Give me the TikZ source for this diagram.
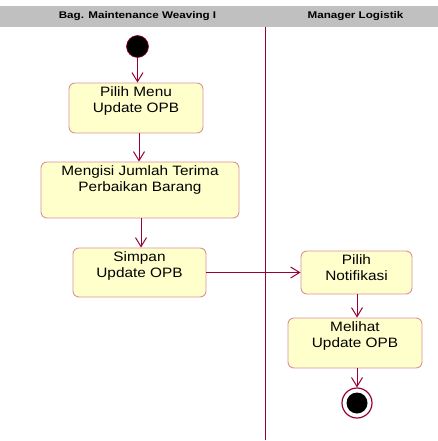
\documentclass[tikz,border=0pt]{standalone}
\usepackage{fontspec}
\setmainfont{Liberation Sans}
\newfontfamily\boxfont[FakeStretch=1.13]{Liberation Sans}
\newfontfamily\headfont[FakeStretch=1.2]{Liberation Sans}
\usetikzlibrary{arrows.meta}
\definecolor{flowred}{HTML}{990033}
\definecolor{actfill}{HTML}{FFFFCC}
\definecolor{actedge}{HTML}{D8939A}
\definecolor{headgray}{HTML}{C0C0C0}
\tikzset{
  act/.style={draw=actedge, fill=actfill, line width=0.9pt, rounded corners=6pt,
    rectangle, inner sep=0pt},
  acttext/.style={anchor=north, inner sep=0pt, yshift=-3.5pt, align=center,
    font=\boxfont\fontsize{13.6}{16}\selectfont, text=black},
  flow/.style={draw=flowred, line width=1pt, -{Straight Barb[length=9pt,width=11pt]}},
  lanehead/.style={font=\headfont\fontsize{9.7}{11}\selectfont\bfseries, inner sep=0pt},
  startnode/.style={circle, fill=black, draw=flowred, line width=0.6pt,
    minimum size=22pt, inner sep=0pt},
  endring/.style={circle, fill=white, draw=flowred, line width=1.2pt,
    minimum size=30pt, inner sep=0pt},
  enddot/.style={circle, fill=black, minimum size=21pt, inner sep=0pt}
}
\begin{document}
\begin{tikzpicture}[x=1pt,y=-1pt]
\useasboundingbox (0,0) rectangle (438,441);

% swimlane header and divider
\fill[headgray] (0,6) rectangle (438,27);
\node[lanehead] (laneA) at (137.5,16.5) {Bag. Maintenance Weaving I};
\node[lanehead] (laneB) at (355.5,16.5) {Manager Logistik};
\coordinate (divtop) at (265,27);
\coordinate (divbot) at (265,440);
\draw[flowred, line width=1pt] (divtop) -- (divbot);

% left lane
\node[startnode] (start) at (137.5,46.5) {};
\node[act, minimum width=134pt, minimum height=50pt,
  label={[acttext]north:Pilih Menu\\Update OPB}] (pm) at (136,108) {};
\node[act, minimum width=198pt, minimum height=56pt,
  label={[acttext]north:Mengisi Jumlah Terima\\Perbaikan Barang}] (mj) at (140,190) {};
\node[act, minimum width=133pt, minimum height=49pt,
  label={[acttext]north:Simpan\\Update OPB}] (su) at (139.5,272.5) {};

% right lane
\node[act, minimum width=111pt, minimum height=43pt,
  label={[acttext]north:Pilih\\Notifikasi}] (pn) at (356.5,272.5) {};
\node[act, minimum width=134pt, minimum height=50pt,
  label={[acttext]north:Melihat\\Update OPB}] (mu) at (355,343) {};
\node[endring] (finish) at (357,403) {};
\node[enddot] at (finish) {};

% control flow
\draw[flow] (start.south) -- (start.south |- pm.north);
\draw[flow] (pm.south -| 139,0) -- (139,0 |- mj.north);
\draw[flow] (mj.south -| 141,0) -- (141,0 |- su.north);
\draw[flow] (su.east) -- (pn.west);
\draw[flow] (pn.south -| finish.north) -- (finish.north |- mu.north);
\draw[flow] (mu.south -| finish.north) -- (finish.north);
\end{tikzpicture}
\end{document}
